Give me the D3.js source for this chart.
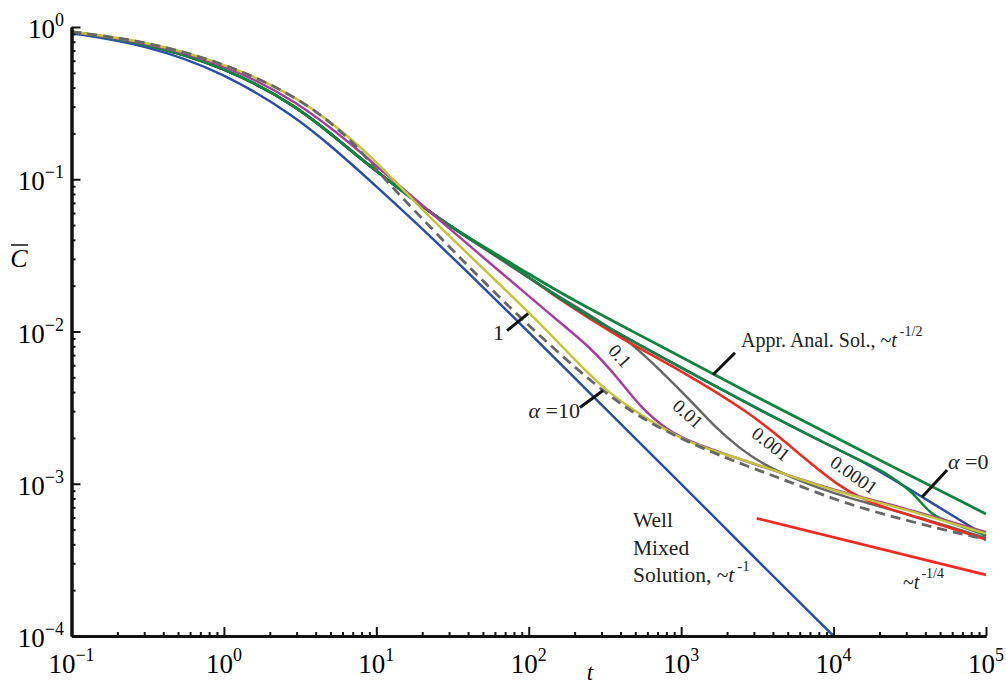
<!DOCTYPE html>
<html>
<head>
<meta charset="utf-8">
<script src="https://cdn.jsdelivr.net/npm/d3@7"></script>
<style>
  body { margin: 0; background: #fff; }
  svg { display: block; font-family: 'Liberation Serif', 'Times New Roman', serif; }
</style>
</head>
<body>
<div id="chart"></div>
<script>
// tick decades
const xExponents = [-1, 0, 1, 2, 3, 4, 5]
const yExponents = [0, -1, -2, -3, -4]

// [t, C] pairs
const wellMixed = [[0.1, 0.91], [0.3, 0.77], [1, 0.505], [3, 0.255], [5.4, 0.156], [10, 0.09], [28, 0.0347], [100, 0.0099], [300, 0.0033], [1000, 0.001], [3000, 0.00033], [10000, 0.0001]]

// small alpha curves and the approximate solution coincide at early times
const sharedEarly = [[0.1, 0.93], [0.3, 0.79], [1, 0.549], [3, 0.307], [6.7, 0.156], [10, 0.113], [26, 0.054]]
const approxTail = [[55, 0.0343], [100, 0.0239], [186, 0.0165], [500, 0.0098], [1000, 0.0068], [2830, 0.0039], [10000, 0.00204], [100000, 0.000633]]
const alpha0Tail = [[55, 0.0338], [100, 0.0229], [160, 0.0163], [400, 0.0095], [1000, 0.0058], [3830, 0.0028], [10000, 0.00173], [17300, 0.00133], [38100, 0.000818], [100000, 0.000454]]
const alpha1e4Tail = [[55, 0.0338], [100, 0.0229], [160, 0.0163], [400, 0.0095], [1000, 0.0058], [3830, 0.0028], [10000, 0.00173], [17300, 0.00133], [22300, 0.00117], [31800, 0.00091], [38800, 0.000725], [45200, 0.000608], [70000, 0.00052], [100000, 0.00046]]
const alpha1e3Tail = [[55, 0.0338], [100, 0.0228], [160, 0.0161], [400, 0.009], [984, 0.00559], [2830, 0.00292], [4660, 0.00194], [11300, 0.00091], [20000, 0.00071], [50000, 0.00054], [100000, 0.00043]]
const alpha1e2Tail = [[55, 0.0335], [100, 0.0224], [178, 0.0158], [300, 0.0115], [462, 0.00853], [727, 0.00559], [1143, 0.00355], [1618, 0.00243], [2434, 0.00169], [3830, 0.00125], [10000, 0.00085], [30000, 0.00064], [100000, 0.00044]]
const alpha1e1 = [[0.1, 0.93], [0.3, 0.8], [1, 0.571], [3, 0.33], [7.6, 0.156], [10, 0.122], [26, 0.054], [44, 0.0343], [100, 0.0171], [153, 0.0119], [252, 0.00791], [380, 0.00503], [538, 0.00319], [807, 0.00225], [1196, 0.00185], [2434, 0.00145], [10000, 0.0009], [30000, 0.00069], [100000, 0.00048]]
const alpha1 = [[0.1, 0.93], [0.3, 0.81], [1, 0.583], [3, 0.352], [5.8, 0.211], [8.2, 0.156], [10, 0.13], [20, 0.063], [37.6, 0.0343], [50, 0.026], [113, 0.0119], [195, 0.0067], [327, 0.004], [538, 0.00285], [885, 0.0021], [1479, 0.00168], [2434, 0.00146], [3830, 0.00125], [10500, 0.00088], [28600, 0.00069], [100000, 0.00047]]
const alpha10 = [[0.1, 0.93], [0.3, 0.81], [1, 0.583], [3, 0.352], [5.8, 0.21], [8, 0.152], [10.6, 0.107], [31.4, 0.0343], [81, 0.0132], [280, 0.00426], [655, 0.00236], [2094, 0.00143], [4260, 0.00111], [9930, 0.00079], [21100, 0.00063], [47800, 0.00051], [100000, 0.00043]]
const quarterSlope = [[3130, 0.000593], [100000, 0.000252]]

document.addEventListener('DOMContentLoaded', function () {
  const width = 1006
  const height = 686
  const plot = { left: 71.5, right: 986, top: 27, bottom: 636 }

  const blue = '#2c4fa3'
  const green = '#13843f'
  const red = '#ee2a24'
  const grey = '#666666'
  const purple = '#a2409c'
  const yellow = '#c4c43a'

  const svg = d3.select('#chart')
    .append('svg')
    .attr('width', width)
    .attr('height', height)

  const x = d3.scaleLog().domain([0.1, 1e5]).range([plot.left, plot.right])
  const y = d3.scaleLog().domain([1e-4, 1]).range([plot.bottom, plot.top])

  const line = d3.line()
    .x(d => x(d[0]))
    .y(d => y(d[1]))
    .curve(d3.curveBasis)

  // curves, drawn bottom to top
  const series = [
    { data: wellMixed, color: blue },
    { data: sharedEarly.concat(alpha1e2Tail), color: grey },
    { data: sharedEarly.concat(alpha1e3Tail), color: red },
    { data: sharedEarly.concat(alpha0Tail), color: blue },
    { data: sharedEarly.concat(alpha1e4Tail), color: green },
    { data: sharedEarly.concat(approxTail), color: green, width: 2.8 },
    { data: alpha1e1, color: purple },
    { data: alpha1, color: yellow },
    { data: alpha10, color: grey, dash: '10,6', width: 2.8 },
    { data: quarterSlope, color: red, width: 2.8 }
  ]

  svg.append('g')
    .attr('class', 'curves')
    .selectAll('path')
    .data(series)
    .enter().append('path')
    .attr('d', d => line(d.data))
    .attr('fill', 'none')
    .attr('stroke', d => d.color)
    .attr('stroke-width', d => d.width || 2.5)
    .attr('stroke-dasharray', d => d.dash || null)

  // axes: inward ticks, major and minor
  const xMinor = xExponents.slice(0, -1).flatMap(e => d3.range(2, 10).map(k => k * Math.pow(10, e)))
  const yMinor = yExponents.slice(1).flatMap(e => d3.range(2, 10).map(k => k * Math.pow(10, e)))

  const xAxis = svg.append('g').attr('transform', `translate(0,${plot.bottom})`)
  xAxis.call(d3.axisBottom(x).tickValues(xMinor).tickSize(-4).tickSizeOuter(0).tickFormat(''))
  xAxis.append('g').call(d3.axisBottom(x).tickValues(xExponents.map(e => Math.pow(10, e))).tickSize(-9).tickSizeOuter(0).tickFormat(''))

  const yAxis = svg.append('g').attr('transform', `translate(${plot.left},0)`)
  yAxis.call(d3.axisLeft(y).tickValues(yMinor).tickSize(-4).tickSizeOuter(0).tickFormat(''))
  yAxis.append('g').call(d3.axisLeft(y).tickValues(yExponents.map(e => Math.pow(10, e))).tickSize(-9).tickSizeOuter(0).tickFormat(''))

  svg.selectAll('.domain').attr('stroke', '#111').attr('stroke-width', 3)
  svg.selectAll('.tick line').attr('stroke', '#111').attr('stroke-width', 2)

  const expText = e => e < 0 ? '\u2212' + (-e) : String(e)

  function powerLabel (sel) {
    sel.append('tspan').text('10')
    sel.append('tspan')
      .attr('dy', -12)
      .style('font-size', '18px')
      .text(d => expText(d))
  }

  svg.append('g').selectAll('text')
    .data(xExponents)
    .enter().append('text')
    .attr('x', d => x(Math.pow(10, d)))
    .attr('y', plot.bottom + 37)
    .attr('text-anchor', 'middle')
    .style('font-size', '27px')
    .call(powerLabel)

  svg.append('g').selectAll('text')
    .data(yExponents)
    .enter().append('text')
    .attr('x', 64)
    .attr('y', d => y(Math.pow(10, d)) + 11)
    .attr('text-anchor', 'end')
    .style('font-size', '27px')
    .call(powerLabel)

  // axis titles
  svg.append('text')
    .attr('x', 590)
    .attr('y', 680)
    .attr('text-anchor', 'middle')
    .style('font-size', '23px')
    .style('font-style', 'italic')
    .text('t')

  svg.append('text')
    .attr('x', 19)
    .attr('y', 267)
    .attr('text-anchor', 'middle')
    .style('font-size', '26px')
    .style('font-style', 'italic')
    .text('C')
  svg.append('line')
    .attr('x1', 11).attr('x2', 28)
    .attr('y1', 245).attr('y2', 245)
    .attr('stroke', '#111').attr('stroke-width', 1.5)

  // leaders from curves to their labels
  const leaders = [
    { at: [1618, 0.0052], dx: 22, dy: -22 },
    { at: [38100, 0.000818], dx: 25, dy: -27 },
    { at: [99, 0.0131], dx: -21, dy: 17 },
    { at: [307, 0.0041], dx: -23, dy: 17 }
  ]
  svg.append('g').selectAll('line')
    .data(leaders)
    .enter().append('line')
    .attr('x1', d => x(d.at[0]))
    .attr('y1', d => y(d.at[1]))
    .attr('x2', d => x(d.at[0]) + d.dx)
    .attr('y2', d => y(d.at[1]) + d.dy)
    .attr('stroke', '#111')
    .attr('stroke-width', 3)

  const ann = svg.append('g').style('fill', '#222')

  const appr = ann.append('text').attr('x', 741).attr('y', 347).style('font-size', '20px')
  appr.append('tspan').text('Appr. Anal. Sol., ~')
  appr.append('tspan').style('font-style', 'italic').text('t')
  appr.append('tspan').attr('dx', 3).attr('dy', -11).style('font-size', '14px').text('-1/2')

  const a0 = ann.append('text').attr('x', 948).attr('y', 469).style('font-size', '22px')
  a0.append('tspan').style('font-style', 'italic').text('\u03b1')
  a0.append('tspan').text(' =0')

  const a10 = ann.append('text').attr('x', 580).attr('y', 418).attr('text-anchor', 'end').style('font-size', '22px')
  a10.append('tspan').style('font-style', 'italic').text('\u03b1')
  a10.append('tspan').text(' =10')

  ann.append('text').attr('x', 504).attr('y', 340).attr('text-anchor', 'end').style('font-size', '22px').text('1')

  // rotated labels along curves
  const along = [
    { text: '0.1', x: 620, y: 356, r: 48 },
    { text: '0.01', x: 688, y: 414, r: 42 },
    { text: '0.001', x: 771, y: 444, r: 38 },
    { text: '0.0001', x: 854, y: 475, r: 35 }
  ]
  ann.selectAll('text.along')
    .data(along)
    .enter().append('text')
    .attr('class', 'along')
    .attr('text-anchor', 'middle')
    .attr('dominant-baseline', 'central')
    .attr('transform', d => `translate(${d.x},${d.y}) rotate(${d.r})`)
    .style('font-size', '19px')
    .text(d => d.text)

  const wm = ann.append('text').style('font-size', '21.5px')
  wm.append('tspan').attr('x', 633).attr('y', 527).text('Well')
  wm.append('tspan').attr('x', 633).attr('y', 555).text('Mixed')
  wm.append('tspan').attr('x', 633).attr('y', 582).text('Solution, ~')
  wm.append('tspan').style('font-style', 'italic').text('t')
  wm.append('tspan').attr('dx', 3).attr('dy', -11).style('font-size', '15px').text('-1')

  const q = ann.append('text').attr('x', 903).attr('y', 589).style('font-size', '20px')
  q.append('tspan').text('~')
  q.append('tspan').style('font-style', 'italic').text('t')
  q.append('tspan').attr('dx', 2).attr('dy', -11).style('font-size', '14px').text('-1/4')
})
</script>
</body>
</html>
